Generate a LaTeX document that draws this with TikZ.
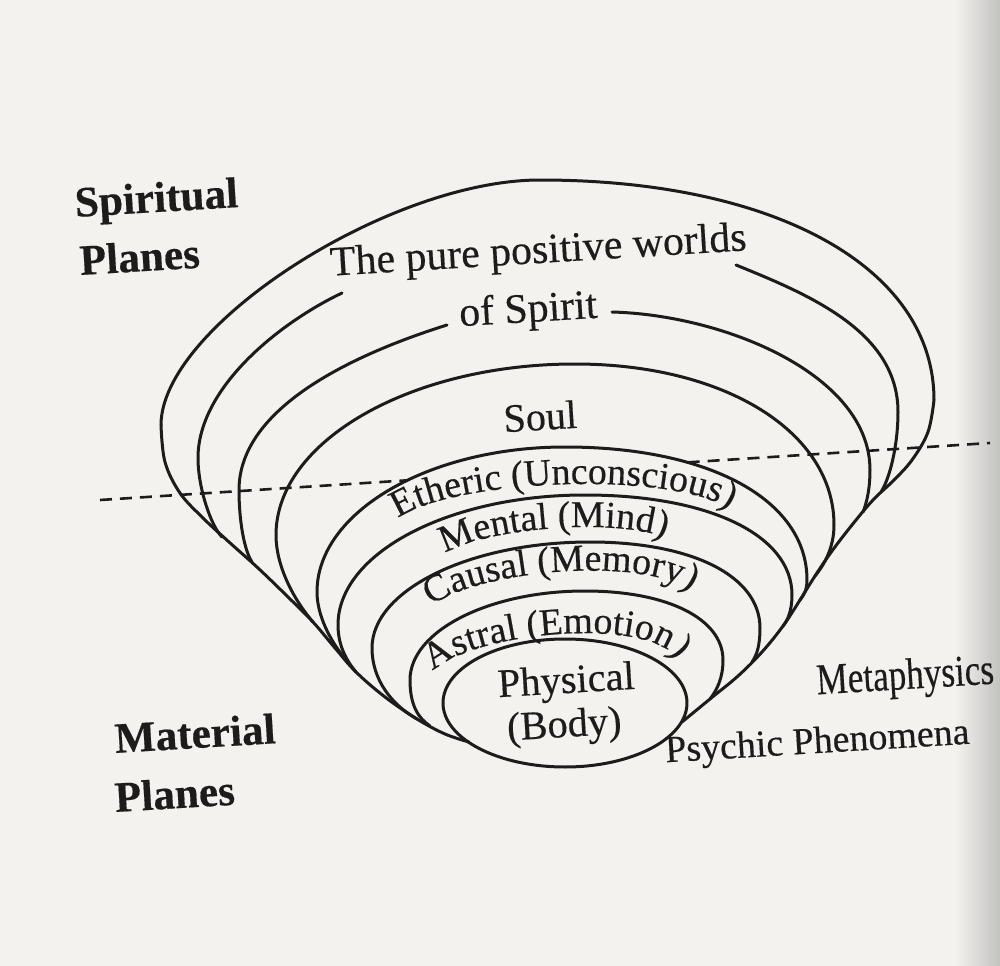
\documentclass[tikz,border=0pt]{standalone}
\usepackage{fontspec}
\setmainfont{Liberation Serif}[FakeBold=0.4]
\usepackage{tikz}
\usetikzlibrary{decorations.text}
\usetikzlibrary{intersections}

\definecolor{paper}{RGB}{243,242,239}
\definecolor{ink}{RGB}{30,28,27}
\newcommand{\arcfont}{\fontsize{10.8}{13}\selectfont\color{ink}}

\begin{document}
\begin{tikzpicture}[x=0.1mm,y=-0.1mm]

    \tikzset{plane/.style = {draw=ink, line width=0.3mm, line cap=round, line join=round}}
    \tikzset{horizon/.style = {draw=ink, line width=0.26mm, dash pattern=on 1.2mm off 0.8mm}}
    \tikzset{word/.style = {text=ink, inner sep=0pt, anchor=base, rotate=3.5, font=\fontsize{11.9}{14}\selectfont}}
    \tikzset{realm/.style = {word, anchor=base west, font=\fontsize{12.3}{14}\selectfont\bfseries}}
    \tikzset{layer/.style = {decorate, decoration={text along path, text align=center, text={|\arcfont|#1}}}}

    \useasboundingbox (0,0) rectangle (1000,966);
    \fill[paper] (0,0) rectangle (1000,966);
    \shade[left color=paper, right color=paper!80!black] (955,0) rectangle (1000,966);

    % outer shells
    \draw[plane] (161,425) .. controls (161,327) and (388,180) .. (540,180) .. controls (776,180) and (934,268) .. (934,400);
    \draw[plane] (222,537) .. controls (211,526) and (198,488) .. (198,458) .. controls (198,388) and (279,323) .. (342,293);
    \draw[plane] (736,265) .. controls (810,295) and (898,332) .. (898,412) .. controls (898,445) and (890,478) .. (881,492);
    \draw[plane] (252,562) .. controls (244,550) and (239,520) .. (239,490) .. controls (239,405) and (361,352) .. (447,325);
    \draw[plane] (612,312) .. controls (725,315) and (870,375) .. (870,470) .. controls (870,488) and (867,502) .. (863,512);
    \draw[plane] (313,622) .. controls (298,605) and (276,570) .. (276,535) .. controls (276,441) and (411,364) .. (575,364) .. controls (725,364) and (834,432) .. (834,525) .. controls (834,548) and (824,565) .. (815,576);

    % inner shells
    \draw[plane, name path=ether] (343,656) .. controls (330,640) and (317,615) .. (317,592) .. controls (317,512) and (429,447) .. (565,447) .. controls (710,447) and (807,500) .. (807,580) .. controls (807,590) and (804,595) .. (800,600);
    \draw[plane] (356,672) .. controls (346,660) and (338,645) .. (338,625) .. controls (338,553) and (449,495) .. (585,495) .. controls (709,495) and (792,535) .. (792,595) .. controls (792,610) and (788,620) .. (783,626);
    \draw[plane] (417,719) .. controls (392,705) and (372,680) .. (372,648) .. controls (372,590) and (470,542) .. (590,542) .. controls (692,542) and (760,576) .. (760,628) .. controls (760,645) and (757,655) .. (752,662);
    \draw[plane] (430,726) .. controls (418,718) and (410,705) .. (410,680) .. controls (410,631) and (489,591) .. (585,591) .. controls (668,591) and (723,619) .. (723,660) .. controls (723,678) and (717,690) .. (710,699);
    \draw[plane] (565,703) ellipse [x radius=12.2mm, y radius=6.4mm];

    % where the shells run together
    \draw[plane] plot[smooth, tension=0.6] coordinates {(161,425) (165,462) (180,493) (203,518) (229,542) (258,568) (287,596) (313,622) (335,648) (356,672) (385,697) (417,719) (445,734) (469,742)};
    \draw[plane] plot[smooth, tension=0.6] coordinates {(934,400) (928,432) (912,460) (893,481) (873,500) (852,525) (832,551) (815,576) (800,600) (783,626) (762,652) (738,676) (710,699) (682,722)};

    \coordinate (hzL) at (100,500);
    \coordinate (hzR) at (990,443);
    \path[name path=hz] (hzL) -- (hzR);
    \path[name intersections={of=ether and hz, sort by=hz, by={etL,etR}}];
    \draw[horizon] (hzL) -- (etL);
    \draw[horizon] (etR) -- (hzR);

    \node[realm] (spir) at (75,217) {Spiritual};
    \node[realm] (spirpl) at (80,275) {Planes};
    \node[realm] (mat) at (115,753) {Material};
    \node[realm] (matpl) at (115,812) {Planes};

    \node[word] (pure) at (539,263) {The pure positive worlds};
    \node[word] (spirit) at (529,322) {of Spirit};
    \node[word, font=\fontsize{11.4}{14}\selectfont] (soul) at (541,430) {Soul};
    \node[word, font=\fontsize{11.5}{14}\selectfont] (phys) at (567,693) {Physical};
    \node[word, font=\fontsize{11.5}{14}\selectfont] (body) at (565,737) {(Body)};
    \node[word, font=\fontsize{12.5}{14}\selectfont, xscale=0.8] (meta) at (906,689) {Metaphysics};
    \node[word, font=\fontsize{10.8}{14}\selectfont] (psy) at (818,753) {Psychic Phenomena};

    \path[layer={Etheric (Unconscious)}] (379,531) -- (400,517) .. controls (455,480) and (665,470) .. (728,508) -- (749,521);
    \path[layer={Mental (Mind)}] (424,568) -- (445,554) .. controls (485,527) and (620,518) .. (665,538) -- (688,548);
    \path[layer={Causal (Memory)}] (411,623) -- (430,607) .. controls (475,570) and (645,555) .. (692,592) -- (712,607);
    \path[layer={Astral (Emotion)}] (418,684) -- (437,668) .. controls (480,632) and (640,618) .. (673,655) -- (690,674);

\end{tikzpicture}
\end{document}
